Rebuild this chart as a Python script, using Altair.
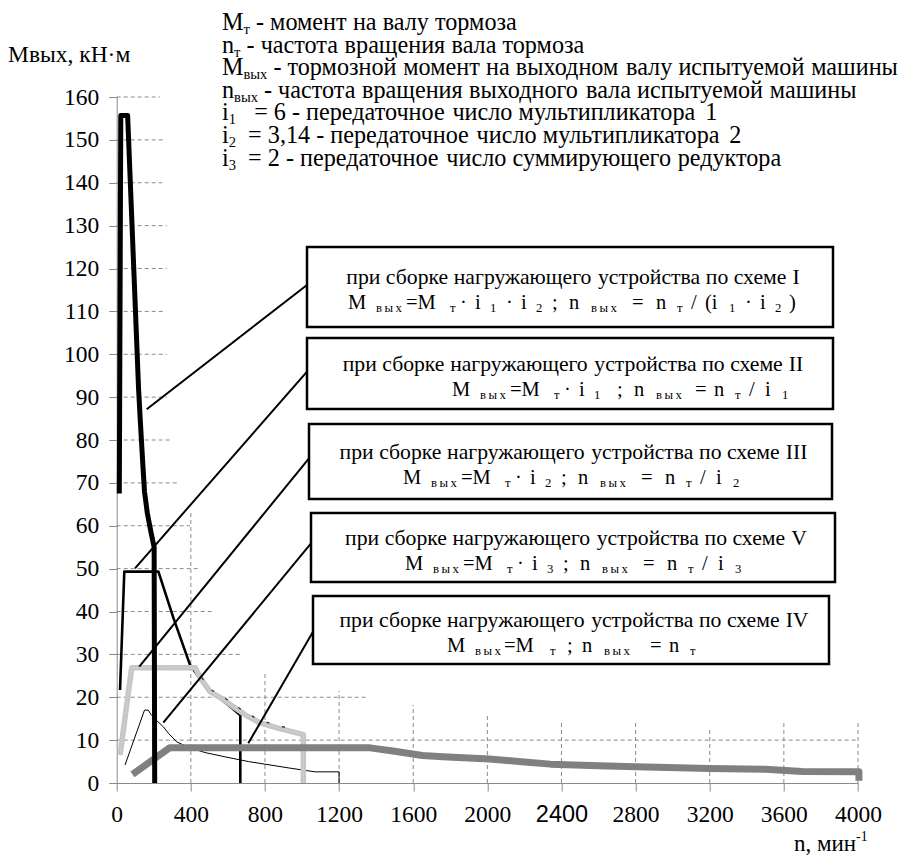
import altair as alt
import pandas as pd

# ---------------- data ----------------
# Scheme I (thick black)
n_I = [14, 22, 59, 118, 128, 140, 150, 165, 185, 202, 205]
m_I = [67.5, 155.7, 155.7, 92.0, 84.0, 75.0, 68.0, 63.0, 58.5, 55.0, 0.0]
# Scheme II (medium black)
n_II = [18, 41, 225, 306, 396, 459, 504, 585, 630, 667, 667]
m_II = [21.7, 49.3, 49.3, 38.5, 27.5, 23.8, 21.5, 18.8, 17.2, 15.8, 0.0]
# Scheme III (light grey)
n_III = [18, 81, 423, 459, 504, 585, 630, 693, 774, 870, 945, 1007, 1007]
m_III = [6.5, 26.9, 26.9, 24.0, 21.3, 19.2, 17.8, 15.9, 14.0, 12.8, 12.0, 11.3, 0.0]
# Scheme IV (thick dark grey)
n_IV = [85, 285, 1367, 1500, 1650, 1760, 2010, 2200, 2340, 2600, 2800, 3200, 3500, 3700, 4005, 4005]
m_IV = [2.0, 8.2, 8.2, 7.4, 6.4, 6.1, 5.6, 4.9, 4.4, 4.0, 3.8, 3.4, 3.2, 2.7, 2.6, 0.5]
# Scheme V (thin black)
n_V = [45, 150, 170, 185, 210, 252, 279, 324, 387, 477, 585, 711, 945, 1071, 1200, 1200]
m_V = [4.2, 17.0, 17.0, 16.0, 14.8, 13.1, 11.6, 9.6, 8.3, 7.1, 6.1, 5.0, 3.4, 2.6, 2.6, 0.0]

x_ticks = list(range(0, 4001, 400))
y_ticks = list(range(0, 161, 10))
# partial dashed grid lines
hgrid_m = [10, 20, 30, 40, 50, 60, 70, 80, 90, 100, 110, 120, 130, 140, 150, 160]
hgrid_end = [4000, 1358, 669, 522, 441, 396, 333, 293, 270, 270, 265, 270, 270, 246, 252, 234]
vgrid_n = [400, 800, 1200, 1600, 2000, 2400, 2800, 3200, 3600, 4000]
vgrid_top = [63.2, 25.9, 21.5, 18.2, 16.3, 14.7, 14.0, 13.0, 14.2, 14.7]

legend_lines = [
    [("M", "n"), ("т", "s"), (" - момент на валу тормоза", "n")],
    [("n", "n"), ("т", "s"), (" - частота вращения вала тормоза", "n")],
    [("M", "n"), ("вых", "s"), (" - тормозной момент на выходном валу испытуемой машины", "n")],
    [("n", "n"), ("вых", "s"), (" - частота вращения выходного вала испытуемой машины", "n")],
    [("i", "n"), ("1", "s"), ("   = 6 - передаточное число мультипликатора 1", "n")],
    [("i", "n"), ("2", "s"), ("  = 3,14 - передаточное число мультипликатора 2", "n")],
    [("i", "n"), ("3", "s"), ("  = 2 - передаточное число суммирующего редуктора", "n")],
]
box_titles = [
    "при сборке нагружающего устройства по схеме I",
    "при сборке нагружающего устройства по схеме II",
    "при сборке нагружающего устройства по схеме III",
    "при сборке нагружающего устройства по схеме V",
    "при сборке нагружающего устройства по схеме IV",
]
VYH = "в\u2009ы\u2009х"
# formula tokens: (text, kind, offset in px from the line start)
box_formulas = [
    [("M", "n", 0), (VYH, "s", 28), ("=M", "n", 58), ("т", "s", 102), ("·", "n", 112), ("i", "n", 127),
     ("1", "s", 142), ("·", "n", 158), ("i", "n", 173), ("2", "s", 188), (";", "n", 204), ("n", "n", 221),
     (VYH, "s", 243), ("=", "n", 284), ("n", "n", 308), ("т", "s", 329), ("/", "n", 343), ("(i", "n", 357),
     ("1", "s", 381), ("·", "n", 397), ("i", "n", 412), ("2", "s", 427), (")", "n", 441)],
    [("M", "n", 0), (VYH, "s", 28), ("=M", "n", 58), ("т", "s", 102), ("·", "n", 112), ("i", "n", 127),
     ("1", "s", 142), (";", "n", 165), ("n", "n", 182), (VYH, "s", 204), ("=", "n", 243), ("n", "n", 262),
     ("т", "s", 283), ("/", "n", 297), ("i", "n", 313), ("1", "s", 330)],
    [("M", "n", 0), (VYH, "s", 28), ("=M", "n", 58), ("т", "s", 102), ("·", "n", 112), ("i", "n", 127),
     ("2", "s", 142), (";", "n", 158), ("n", "n", 175), (VYH, "s", 197), ("=", "n", 238), ("n", "n", 262),
     ("т", "s", 283), ("/", "n", 297), ("i", "n", 313), ("2", "s", 330)],
    [("M", "n", 0), (VYH, "s", 28), ("=M", "n", 58), ("т", "s", 102), ("·", "n", 112), ("i", "n", 127),
     ("3", "s", 142), (";", "n", 158), ("n", "n", 175), (VYH, "s", 197), ("=", "n", 238), ("n", "n", 262),
     ("т", "s", 283), ("/", "n", 297), ("i", "n", 313), ("3", "s", 330)],
    [("M", "n", 0), (VYH, "s", 28), ("=M", "n", 57), ("т", "s", 103), (";", "n", 120), ("n", "n", 135),
     (VYH, "s", 157), ("=", "n", 203), ("n", "n", 222), ("т", "s", 243)],
]
formula_start = [348, 452, 403, 405, 447]

# ---------------- layout (page pixels of the reference) ----------------
X0, X1 = 116.7, 858.0   # n = 0 and n = 4000
Y0, Y1 = 783.0, 97.0    # M = 0 and M = 160
W_PLOT, H_PLOT = X1 - X0, Y0 - Y1
PAD = {"left": X0 - 8, "top": Y1 - 8, "right": 50, "bottom": 75}


def nx(px):
    return (px - X0) / W_PLOT * 4000


def vy(py):
    return (Y0 - py) / H_PLOT * 160


CW = {' ': .25, '-': .333, '=': .564, '·': .25, ';': .278, '/': .278, '(': .333, ')': .333, ',': .25,
      'M': .889, 'I': .333, 'V': .722, 'Н': .722, 'n': .5, 'i': .278,
      'а': .444, 'б': .5, 'в': .469, 'г': .409, 'д': .5, 'е': .444, 'ж': .72, 'з': .392, 'и': .537,
      'й': .537, 'к': .49, 'л': .5, 'м': .625, 'н': .537, 'о': .5, 'п': .537, 'р': .5, 'с': .444,
      'т': .441, 'у': .5, 'ф': .676, 'х': .5, 'ц': .537, 'ч': .505, 'ш': .76, 'щ': .76, 'ъ': .515,
      'ы': .673, 'ь': .461, 'э': .435, 'ю': .729, 'я': .477}


def tw(s, fs):
    return sum(CW.get(c, 0.5) for c in s) * fs


rows = []


def seg_width(segs, size, sub):
    return sum(tw(t, size if k == "n" else size * sub) for t, k in segs)


def put(segs, x, y, size, sub=0.58, sub_dy=None):
    if sub_dy is None:
        sub_dy = size * 0.2
    cx = x
    for txt, kind in segs:
        fs = size if kind == "n" else size * sub
        dy = 0 if kind == "n" else (sub_dy if kind == "s" else -size * 0.45)
        word = ""
        for ch in txt + "\0":
            if ch in " \0":
                if word:
                    rows.append(dict(n=nx(cx), m=vy(y + dy), text=word, fs=fs))
                    cx += tw(word, fs)
                    word = ""
                if ch == " ":
                    cx += CW[" "] * fs
            else:
                word += ch
    return cx


# top legend
FT = 24.2
for k, segs in enumerate(legend_lines):
    put(segs, 222, 30 + k * 22.6, FT, sub=0.6, sub_dy=4)

# axis titles
put([("Mвых, кН·м", "n")], 8, 62, 23.5)
put([("n, мин", "n"), ("-1", "p")], 794, 851, 23, sub=0.6)

# boxes
box_px = [(307, 833, 247, 327), (307, 833, 338, 409), (309, 832, 424, 499),
          (311, 835, 513, 582), (313, 829, 596, 664)]
leader_px = [(146.7, 409.3, 307, 285), (135, 568.3, 307, 371.7), (139.3, 666.7, 309, 458.3),
             (163.3, 722.7, 311, 543.3), (248.3, 743.3, 313, 631.7)]
FB, FS = 21.7, 20.5
for b, (x1, x2, y1, y2) in enumerate(box_px):
    xc, yc = (x1 + x2) / 2 + 3, (y1 + y2) / 2
    t = [(box_titles[b], "n")]
    put(t, xc - seg_width(t, FB, 0.55) / 2, yc - 3, FB)
    for txt, kind, off in box_formulas[b]:
        if kind == "n":
            rows.append(dict(n=nx(formula_start[b] + off), m=vy(yc + 22), text=txt, fs=FS))
        else:
            rows.append(dict(n=nx(formula_start[b] + off), m=vy(yc + 25), text=txt, fs=FS * 0.62))

df_text = pd.DataFrame(rows)
df_box = pd.DataFrame([dict(n=nx(a), n2=nx(b), m=vy(c), m2=vy(d)) for a, b, c, d in box_px])
df_lead = pd.DataFrame([dict(n=nx(a), m=vy(b), n2=nx(c), m2=vy(d)) for a, b, c, d in leader_px])
df_hg = pd.DataFrame({"n": [0] * len(hgrid_m), "n2": hgrid_end, "m": hgrid_m})
df_vg = pd.DataFrame({"n": vgrid_n, "m": [0] * len(vgrid_n), "m2": vgrid_top})

# ---------------- chart ----------------
xs = alt.Scale(domain=[0, 4000], nice=False, zero=False)
ys = alt.Scale(domain=[0, 160], nice=False, zero=False)
GREY = "#8a8a8a"
xaxis = alt.Axis(values=x_ticks, format="d", grid=False, domainColor=GREY, tickColor=GREY, tickSize=8,
                 labelFont={"condition": {"test": "datum.value == 2400", "value": "Liberation Sans"},
                            "value": "Liberation Serif"},
                 labelFontSize=23.5, labelColor="black", labelPadding=11, labelFlush=False,
                 labelOverlap=False, title=None)
yaxis = alt.Axis(values=y_ticks, format="d", grid=False, domainColor=GREY, tickColor=GREY, tickSize=8,
                 labelFont="Liberation Serif", labelFontSize=23.5, labelColor="black",
                 labelPadding=10, labelOverlap=False, title=None)

X = alt.X("n:Q", scale=xs, axis=xaxis)
Y = alt.Y("m:Q", scale=ys, axis=yaxis)

grid_h = alt.Chart(df_hg).mark_rule(color=GREY, strokeDash=[4, 3], strokeWidth=1).encode(
    x=X, x2="n2:Q", y=Y)
grid_v = alt.Chart(df_vg).mark_rule(color=GREY, strokeDash=[4, 3], strokeWidth=1).encode(
    x=X, y=Y, y2="m2:Q")


def curve(ns, ms, color, width, **extra):
    df = pd.DataFrame({"n": ns, "m": ms, "i": list(range(len(ns)))})
    return alt.Chart(df).mark_line(color=color, strokeWidth=width, strokeJoin="round",
                                   strokeCap="butt", **extra).encode(x=X, y=Y, order="i:Q")


c5 = curve(n_V, m_V, "black", 1)
c2 = curve(n_II, m_II, "black", 2.6)
c3 = curve(n_III, m_III, "#c6c6c6", 5.5)
c3tex = curve(n_III, m_III, "#e2e2e2", 1.0, strokeDash=[1, 2])
c3tick = curve(n_III[3:11], [v + 0.6 for v in m_III[3:11]], "#333333", 1.3, strokeDash=[3, 13])
c4 = curve(n_IV, m_IV, "#808080", 7)
c1 = curve(n_I, m_I, "black", 5)

leaders = alt.Chart(df_lead).mark_rule(color="black", strokeWidth=2).encode(
    x=X, y=Y, x2="n2:Q", y2="m2:Q")
boxes = alt.Chart(df_box).mark_rect(fill="white", stroke="black", strokeWidth=2.5).encode(
    x=X, x2="n2:Q", y=Y, y2="m2:Q")
texts = alt.Chart(df_text).mark_text(align="left", baseline="alphabetic", color="black",
                                     font="Liberation Serif").encode(
    x=X, y=Y, text="text:N", size=alt.Size("fs:Q", scale=None))

chart = alt.layer(grid_h, grid_v, c5, c2, c3, c3tex, c3tick, c4, c1, leaders, boxes, texts).properties(
    width=W_PLOT, height=H_PLOT, autosize=alt.AutoSizeParams(type="none"), padding=PAD,
    background="white"
).configure_view(stroke=None)

chart.save("out.html", embed_options={"renderer": "svg", "actions": False})
